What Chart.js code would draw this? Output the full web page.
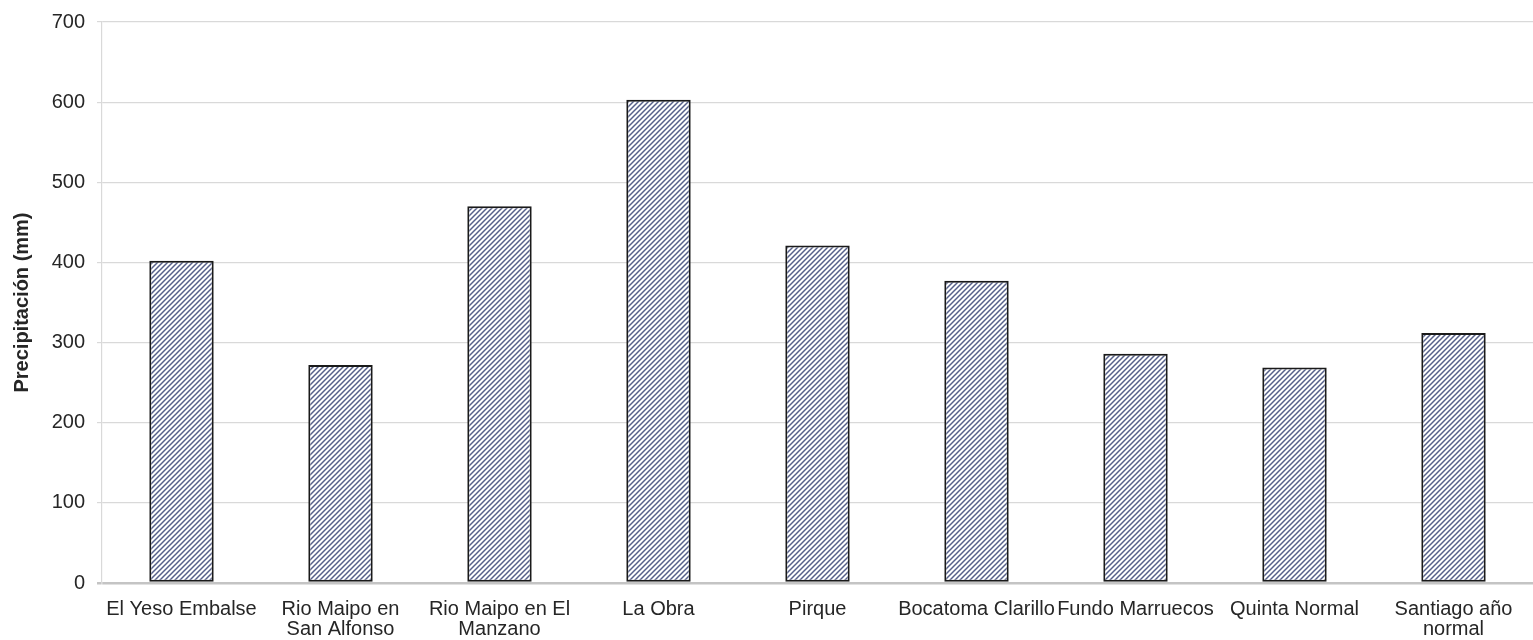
<!DOCTYPE html>
<html>
<head>
<meta charset="utf-8">
<script src="https://cdn.jsdelivr.net/npm/chart.js@4.4.1/dist/chart.umd.min.js"></script>
<style>
    body { margin: 0; background: #ffffff; }
    #wrap { width: 1533px; height: 640px; }
</style>
</head>
<body>
<div id="wrap"><canvas id="myChart" width="1533" height="640"></canvas></div>
<script>
// estaciones y precipitación (mm)
const categories = [
    'El Yeso Embalse',
    ['Rio Maipo en', 'San Alfonso'],
    ['Rio Maipo en El', 'Manzano'],
    'La Obra',
    'Pirque',
    'Bocatoma Clarillo',
    'Fundo Marruecos',
    'Quinta Normal',
    ['Santiago año', 'normal']
];
const precipitation = [402, 272, 470, 603, 421, 377, 286, 269, 312];
const yTicks = [0, 100, 200, 300, 400, 500, 600, 700];

// relleno rayado diagonal
function hatchPattern() {
    const c = document.createElement('canvas');
    c.width = 5;
    c.height = 5;
    const g = c.getContext('2d');
    g.fillStyle = '#ffffff';
    g.fillRect(0, 0, 5, 5);
    g.strokeStyle = '#56608a';
    g.lineWidth = 1.5;
    g.beginPath();
    g.moveTo(0, 5); g.lineTo(5, 0);
    g.moveTo(-1, 1); g.lineTo(1, -1);
    g.moveTo(4, 6); g.lineTo(6, 4);
    g.stroke();
    return g.createPattern(c, 'repeat');
}

const ctx = document.getElementById('myChart').getContext('2d');
const myChart = new Chart(ctx, {
    type: 'bar',
    data: {
        labels: categories,
        datasets: [{
            data: precipitation,
            backgroundColor: hatchPattern(),
            borderColor: '#1a1a1a',
            borderWidth: 2,
            borderSkipped: false,
            categoryPercentage: 1,
            barPercentage: 0.405
        }]
    },
    options: {
        responsive: false,
        animation: false,
        devicePixelRatio: 1,
        layout: { padding: { left: 10, right: 0, top: 0, bottom: 0 } },
        scales: {
            x: {
                grid: { display: false },
                border: { display: false },
                ticks: {
                    color: '#262626',
                    padding: 8,
                    maxRotation: 0,
                    autoSkip: false,
                    font: { family: 'Liberation Sans', size: 20, lineHeight: 1.0 }
                },
                afterFit: (scale) => { scale.height = 57; }
            },
            y: {
                min: 0,
                max: 700,
                afterBuildTicks: (scale) => { scale.ticks = yTicks.map(v => ({ value: v })); },
                grid: {
                    color: (c) => c.tick && c.tick.value === 0 ? '#c4c4c4' : '#d9d9d9',
                    lineWidth: (c) => c.tick && c.tick.value === 0 ? 2.5 : 1.2,
                    tickLength: 5
                },
                border: { display: true, color: '#d9d9d9', width: 1.2 },
                ticks: {
                    color: '#262626',
                    padding: 12,
                    font: { family: 'Liberation Sans', size: 20, lineHeight: 1.0 }
                },
                title: {
                    display: true,
                    text: 'Precipitación (mm)',
                    color: '#262626',
                    font: { family: 'Liberation Sans', size: 20, weight: 'bold' },
                    padding: { top: 0, bottom: 0 }
                },
                afterFit: (scale) => { scale.width = 92; }
            }
        },
        plugins: {
            legend: { display: false },
            tooltip: { enabled: false }
        }
    }
});
</script>
</body>
</html>
